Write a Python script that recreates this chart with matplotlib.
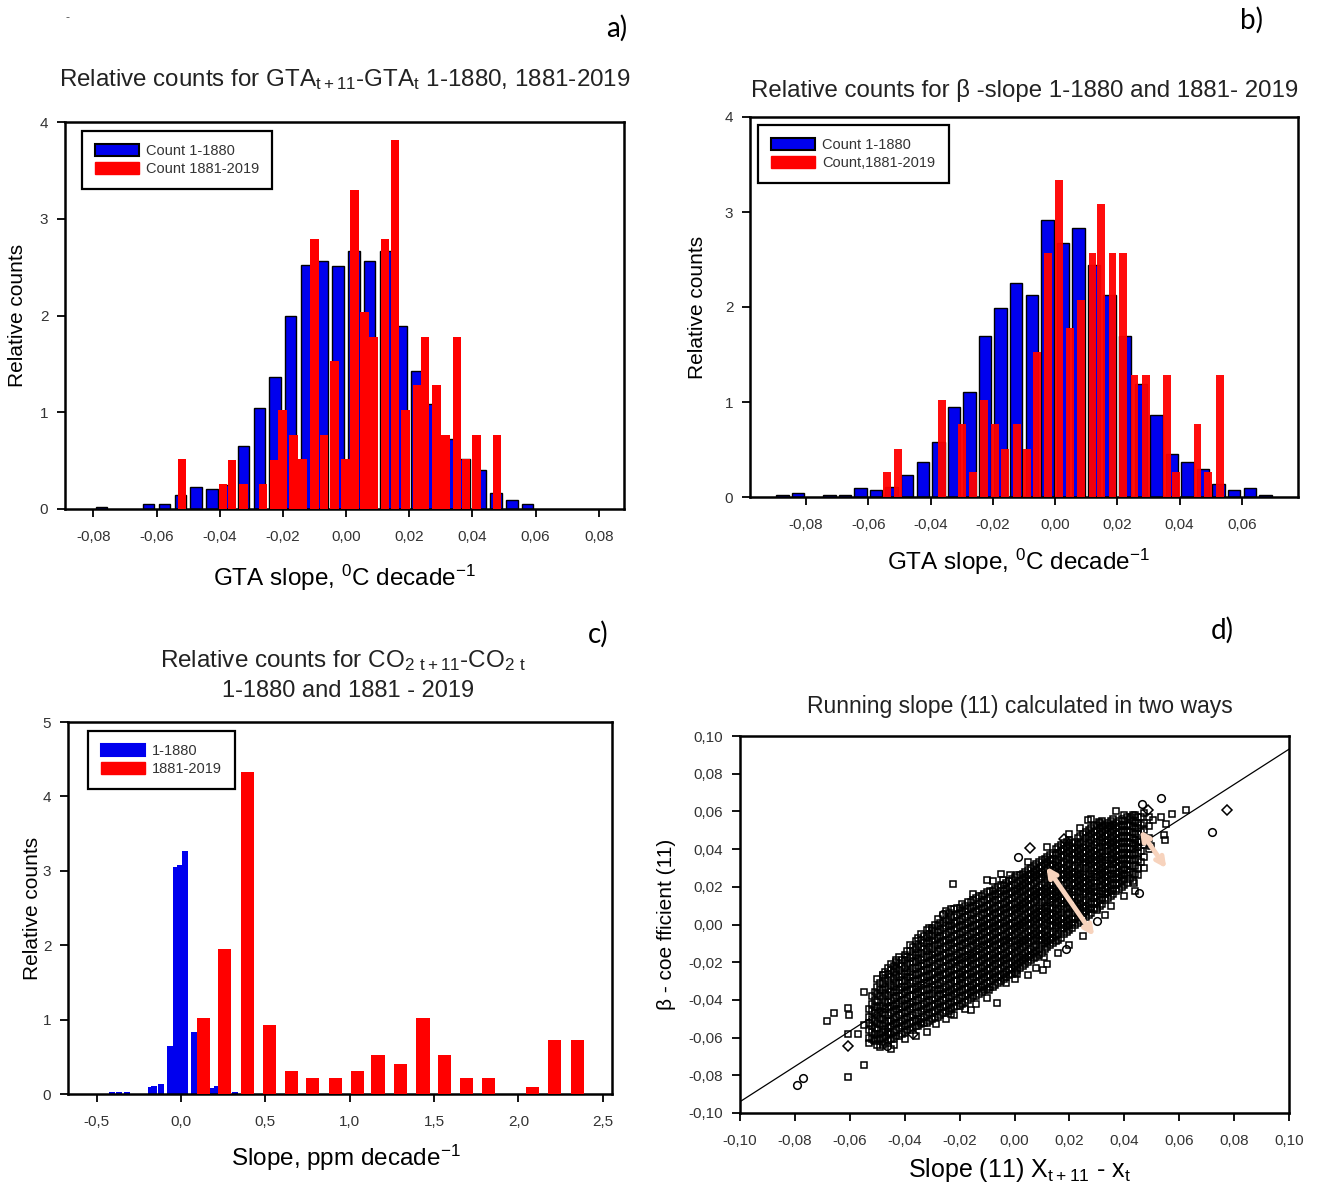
import matplotlib
matplotlib.use('Agg')
import matplotlib.pyplot as plt
from matplotlib.ticker import FuncFormatter
from matplotlib.patches import Patch

plt.rcParams['font.family'] = ['Liberation Sans', 'DejaVu Sans']
plt.rcParams['mathtext.default'] = 'regular'
NARROW = ['Liberation Sans Narrow', 'Liberation Sans', 'DejaVu Sans']

# ---------------- panel a: GTA(t+11)-GTA(t) ----------------
a_blue_x = [-0.0775, -0.0625, -0.0575, -0.0525, -0.0475, -0.0425, -0.0375, -0.0325,
            -0.0275, -0.0225, -0.0175, -0.0125, -0.0075, -0.0025, 0.0025, 0.0075,
            0.0125, 0.0175, 0.0225, 0.0275, 0.0325, 0.0375, 0.0425, 0.0475,
            0.0525, 0.0575]
a_blue_y = [0.02, 0.05, 0.05, 0.145, 0.23, 0.21, 0.25, 0.65,
            1.04, 1.36, 2.00, 2.52, 2.56, 2.51, 2.67, 2.56,
            2.67, 1.89, 1.43, 1.09, 0.72, 0.52, 0.40, 0.17,
            0.09, 0.05]
a_red_x = [-0.0519, -0.0389, -0.0361, -0.0325, -0.0263, -0.0227, -0.0202, -0.0167,
           -0.0138, -0.0100, -0.0070, -0.0037, -0.0001, 0.0027, 0.0059, 0.0087,
           0.0123, 0.0155, 0.0188, 0.0225, 0.0250, 0.0286, 0.0315, 0.0351,
           0.0380, 0.0413, 0.0478]
a_red_y = [0.52, 0.26, 0.51, 0.26, 0.26, 0.51, 1.02, 0.77,
           0.52, 2.79, 0.77, 1.53, 0.52, 3.30, 2.04, 1.78,
           2.79, 3.81, 1.02, 1.28, 1.78, 1.28, 0.77, 1.78,
           0.52, 0.77, 0.77]

# ---------------- panel b: beta-slope ----------------
b_blue_x = [-0.0875, -0.0825, -0.0725, -0.0675, -0.0625, -0.0575, -0.0525, -0.0475,
            -0.0425, -0.0375, -0.0325, -0.0275, -0.0225, -0.0175, -0.0125, -0.0075,
            -0.0025, 0.0025, 0.0075, 0.0125, 0.0175, 0.0225, 0.0275, 0.0325,
            0.0375, 0.0425, 0.0475, 0.0525, 0.0575, 0.0625, 0.0675]
b_blue_y = [0.02, 0.04, 0.02, 0.02, 0.09, 0.07, 0.11, 0.23,
            0.37, 0.58, 0.95, 1.11, 1.70, 1.99, 2.25, 2.13,
            2.92, 2.67, 2.83, 2.44, 2.13, 1.70, 1.19, 0.86,
            0.45, 0.37, 0.30, 0.14, 0.07, 0.09, 0.02]
b_red_x = [-0.0540, -0.0504, -0.0364, -0.0300, -0.0263, -0.0229, -0.0192, -0.0160,
           -0.0122, -0.0091, -0.0059, -0.0024, 0.0012, 0.0047, 0.0083, 0.0120,
           0.0148, 0.0184, 0.0219, 0.0255, 0.0291, 0.0359, 0.0389, 0.0457,
           0.0492, 0.0530]
b_red_y = [0.26, 0.51, 1.02, 0.77, 0.26, 1.02, 0.77, 0.51,
           0.77, 0.51, 1.53, 2.57, 3.34, 1.78, 2.07, 2.57,
           3.08, 2.57, 2.57, 1.28, 1.28, 1.28, 0.26, 0.77,
           0.26, 1.28]

# ---------------- panel c: CO2 ----------------
c_blue_x = [-0.41, -0.37, -0.32, -0.18, -0.16, -0.12, -0.063, -0.032,
            -0.008, 0.024, 0.079, 0.187, 0.213, 0.322]
c_blue_y = [0.03, 0.03, 0.03, 0.09, 0.11, 0.14, 0.65, 3.05,
            3.08, 3.26, 0.83, 0.08, 0.11, 0.03]
c_red_x = [0.131, 0.258, 0.394, 0.526, 0.655, 0.780, 0.916, 1.047,
           1.168, 1.303, 1.435, 1.564, 1.691, 1.825, 2.085, 2.212, 2.348]
c_red_y = [1.02, 1.95, 4.33, 0.93, 0.31, 0.22, 0.22, 0.31,
           0.52, 0.40, 1.02, 0.52, 0.22, 0.22, 0.10, 0.73, 0.73]

# ---------------- panel d: running slope scatter (values in 1/1000) ----------------
cloud_odd = [
    (-53, [-63, -60, -56, -52, -49, -45]),
    (-51, [-62, -58, -55, -51, -47, -44, -40, -36]),
    (-49, [-65, -61, -58, -53, -50, -46, -43, -38, -35, -31]),
    (-47, [-63, -59, -56, -52, -48, -45, -41, -37, -33, -29, -25]),
    (-45, [-61, -58, -54, -51, -47, -43, -40, -36, -32, -28, -24, -21]),
    (-43, [-59, -56, -52, -49, -45, -42, -38, -35, -31, -27, -23, -20]),
    (-41, [-58, -54, -51, -47, -44, -40, -37, -33, -30, -26, -22, -19]),
    (-39, [-56, -53, -49, -46, -42, -39, -35, -32, -28, -25, -21, -17, -14]),
    (-37, [-55, -51, -48, -44, -41, -38, -34, -30, -27, -23, -20, -16, -12]),
    (-35, [-54, -50, -47, -43, -40, -36, -33, -29, -26, -22, -18, -15, -11, -7]),
    (-33, [-52, -49, -45, -42, -38, -35, -31, -28, -24, -21, -17, -13, -10, -6]),
    (-31, [-51, -47, -44, -40, -37, -34, -30, -27, -23, -20, -16, -12, -9, -5, -2]),
    (-29, [-49, -46, -42, -39, -35, -32, -29, -25, -22, -18, -15, -11, -8, -4, 0]),
    (-27, [-48, -44, -41, -37, -34, -31, -27, -24, -20, -17, -13, -10, -6, -3, 1]),
    (-25, [-46, -43, -39, -36, -33, -29, -26, -22, -19, -15, -12, -8, -5, -1, 3]),
    (-23, [-45, -41, -38, -35, -31, -28, -24, -21, -17, -14, -10, -7, -3, 0, 4, 8]),
    (-21, [-43, -40, -36, -33, -30, -26, -23, -19, -16, -12, -9, -5, -2, 2, 5, 9]),
    (-19, [-42, -38, -35, -31, -28, -25, -21, -18, -14, -11, -7, -4, 0, 3, 7, 11]),
    (-17, [-40, -37, -33, -30, -26, -23, -20, -16, -13, -9, -6, -2, 1, 5, 8, 12]),
    (-15, [-38, -35, -32, -28, -25, -21, -18, -15, -11, -8, -4, -1, 3, 6, 10, 13]),
    (-13, [-37, -33, -30, -27, -23, -20, -16, -13, -9, -6, -3, 1, 4, 8, 11, 15]),
    (-11, [-35, -32, -28, -25, -22, -18, -15, -11, -8, -4, -1, 2, 6, 9, 13, 16]),
    (-9, [-33, -30, -27, -23, -20, -16, -13, -10, -6, -3, 1, 4, 7, 11, 14, 18]),
    (-7, [-32, -28, -25, -21, -18, -15, -11, -8, -4, -1, 2, 6, 9, 13, 16, 19]),
    (-5, [-30, -27, -23, -20, -16, -13, -10, -6, -3, 1, 4, 7, 11, 14, 18, 21]),
    (-3, [-28, -25, -21, -18, -15, -11, -8, -5, -1, 2, 6, 9, 12, 16, 19, 22]),
    (-1, [-26, -23, -20, -16, -13, -9, -6, -3, 1, 4, 7, 11, 14, 17, 21, 24]),
    (1, [-24, -21, -18, -14, -11, -8, -4, -1, 2, 6, 9, 12, 16, 19, 22, 26]),
    (3, [-22, -19, -16, -12, -9, -6, -2, 1, 4, 8, 11, 14, 18, 21, 24, 27]),
    (5, [-20, -17, -14, -10, -7, -4, 0, 3, 6, 10, 13, 16, 20, 23, 26, 29]),
    (7, [-18, -15, -12, -8, -5, -2, 2, 5, 8, 12, 15, 18, 22, 25, 28, 31]),
    (9, [-16, -13, -9, -6, -3, 1, 4, 7, 10, 14, 17, 20, 24, 27, 30, 33]),
    (11, [-13, -10, -7, -4, 0, 3, 6, 9, 13, 16, 19, 22, 26, 29, 32, 35]),
    (13, [-11, -8, -5, -1, 2, 5, 8, 12, 15, 18, 21, 25, 28, 31, 34, 37]),
    (15, [-9, -6, -2, 1, 4, 7, 11, 14, 17, 20, 24, 27, 30, 33, 37, 40]),
    (17, [-7, -3, 0, 3, 6, 10, 13, 16, 19, 23, 26, 29, 32, 36, 39, 42]),
    (19, [-4, -1, 2, 5, 9, 12, 15, 18, 22, 25, 28, 31, 35, 38, 41, 44]),
    (21, [-2, 1, 4, 8, 11, 14, 17, 21, 24, 27, 30, 34, 37, 40, 43]),
    (23, [1, 4, 7, 10, 13, 17, 20, 23, 26, 29, 33, 36, 39, 42, 46]),
    (25, [3, 6, 9, 12, 16, 19, 22, 25, 28, 32, 35, 38, 41, 44, 48]),
    (27, [5, 8, 11, 15, 18, 21, 24, 27, 31, 34, 37, 40, 43, 47, 50]),
    (29, [8, 11, 14, 17, 20, 23, 27, 30, 33, 36, 39, 42, 46, 49, 52]),
    (31, [10, 13, 16, 20, 23, 26, 29, 32, 35, 38, 41, 45, 48, 51, 54]),
    (33, [13, 16, 19, 22, 25, 28, 31, 34, 37, 41, 44, 47, 50, 53]),
    (35, [15, 18, 21, 24, 27, 30, 34, 37, 40, 43, 46, 49, 52, 55]),
    (37, [18, 21, 24, 27, 30, 33, 36, 39, 42, 45, 48, 51, 54]),
    (39, [20, 23, 26, 29, 32, 35, 38, 41, 44, 47, 50, 53, 56]),
    (41, [22, 26, 29, 32, 35, 38, 41, 44, 47, 50, 53, 57]),
    (43, [23, 27, 31, 34, 37, 40, 43, 46, 49, 52, 55, 58]),
    (45, [26, 30, 34, 38, 41, 44, 48, 51, 54, 57]),
    (47, [30, 36, 42, 46, 50, 54, 59]),
    (49, [40, 46, 52, 57]),
]
cloud_even = [
    (-52, [-61, -57, -54, -50, -46, -42, -38]),
    (-50, [-64, -60, -56, -52, -48, -44, -41, -37, -33]),
    (-48, [-64, -60, -57, -54, -50, -47, -43, -39, -35, -31, -27]),
    (-46, [-62, -58, -55, -51, -48, -44, -41, -38, -34, -30, -26, -23]),
    (-44, [-60, -57, -53, -50, -46, -43, -39, -36, -33, -29, -25, -22]),
    (-42, [-59, -55, -52, -48, -45, -42, -38, -35, -31, -28, -24, -21, -17]),
    (-40, [-57, -54, -50, -47, -43, -40, -36, -33, -30, -26, -23, -19, -16]),
    (-38, [-56, -52, -49, -45, -42, -38, -35, -31, -28, -25, -21, -18, -14]),
    (-36, [-54, -51, -47, -44, -40, -37, -34, -30, -27, -23, -20, -16, -13, -9]),
    (-34, [-53, -50, -46, -43, -39, -36, -32, -29, -25, -22, -19, -15, -12, -8]),
    (-32, [-52, -48, -45, -41, -38, -35, -31, -28, -24, -21, -17, -14, -10, -7, -3]),
    (-30, [-50, -47, -43, -40, -37, -33, -30, -26, -23, -19, -16, -13, -9, -6, -2]),
    (-28, [-49, -45, -42, -38, -35, -32, -28, -25, -21, -18, -14, -11, -7, -4, -1, 3]),
    (-26, [-47, -44, -40, -37, -34, -30, -27, -23, -20, -16, -13, -9, -6, -2, 1, 5]),
    (-24, [-46, -42, -39, -36, -32, -29, -25, -22, -18, -15, -11, -8, -4, -1, 2, 6]),
    (-22, [-44, -41, -37, -34, -30, -27, -24, -20, -17, -13, -10, -6, -3, 1, 4, 8]),
    (-20, [-43, -39, -36, -32, -29, -26, -22, -19, -15, -12, -8, -5, -1, 2, 6, 9]),
    (-18, [-41, -38, -34, -31, -27, -24, -21, -17, -14, -10, -7, -3, 0, 4, 7, 10]),
    (-16, [-39, -36, -33, -29, -26, -22, -19, -16, -12, -9, -5, -2, 2, 5, 9, 12]),
    (-14, [-38, -34, -31, -28, -24, -21, -17, -14, -10, -7, -4, 0, 3, 7, 10, 14]),
    (-12, [-36, -33, -29, -26, -23, -19, -16, -12, -9, -5, -2, 1, 5, 8, 12, 15]),
    (-10, [-34, -31, -28, -24, -21, -17, -14, -11, -7, -4, 0, 3, 6, 10, 13, 17]),
    (-8, [-33, -29, -26, -22, -19, -16, -12, -9, -5, -2, 1, 5, 8, 12, 15, 18]),
    (-6, [-31, -28, -24, -21, -17, -14, -11, -7, -4, 0, 3, 6, 10, 13, 16, 20]),
    (-4, [-29, -26, -22, -19, -16, -12, -9, -6, -2, 1, 5, 8, 11, 15, 18, 21]),
    (-2, [-27, -24, -21, -17, -14, -10, -7, -4, 0, 3, 6, 10, 13, 16, 20, 23]),
    (0, [-25, -22, -19, -15, -12, -9, -5, -2, 1, 5, 8, 11, 15, 18, 21, 25]),
    (2, [-23, -20, -17, -13, -10, -7, -3, 0, 3, 7, 10, 13, 17, 20, 23, 26]),
    (4, [-21, -18, -15, -11, -8, -5, -1, 2, 5, 9, 12, 15, 19, 22, 25, 28]),
    (6, [-19, -16, -13, -9, -6, -3, 1, 4, 7, 11, 14, 17, 21, 24, 27, 30]),
    (8, [-17, -14, -11, -7, -4, 0, 3, 6, 9, 13, 16, 19, 23, 26, 29, 32]),
    (10, [-15, -11, -8, -5, -2, 2, 5, 8, 12, 15, 18, 21, 25, 28, 31, 34]),
    (12, [-12, -9, -6, -3, 1, 4, 7, 10, 14, 17, 20, 24, 27, 30, 33, 36]),
    (14, [-10, -7, -4, 0, 3, 6, 9, 13, 16, 19, 22, 26, 29, 32, 35, 38]),
    (16, [-8, -5, -1, 2, 5, 8, 12, 15, 18, 21, 25, 28, 31, 34, 38, 41]),
    (18, [-5, -2, 1, 4, 8, 11, 14, 17, 21, 24, 27, 30, 33, 37, 40, 43]),
    (20, [-3, 0, 3, 6, 10, 13, 16, 19, 23, 26, 29, 32, 36, 39, 42, 45]),
    (22, [0, 3, 6, 9, 12, 15, 19, 22, 25, 28, 31, 35, 38, 41, 44]),
    (24, [2, 5, 8, 11, 14, 18, 21, 24, 27, 30, 34, 37, 40, 43, 47]),
    (26, [4, 7, 10, 13, 17, 20, 23, 26, 30, 33, 36, 39, 42, 46, 49]),
    (28, [6, 9, 12, 16, 19, 22, 25, 29, 32, 35, 38, 41, 45, 48, 51]),
    (30, [9, 12, 15, 18, 22, 25, 28, 31, 34, 37, 40, 44, 47, 50, 53]),
    (32, [11, 14, 18, 21, 24, 27, 30, 33, 36, 39, 43, 46, 49, 52, 55]),
    (34, [14, 17, 20, 23, 26, 29, 32, 36, 39, 42, 45, 48, 51, 54]),
    (36, [16, 19, 22, 25, 29, 32, 35, 38, 41, 44, 47, 50, 53, 56]),
    (38, [19, 22, 25, 28, 31, 34, 37, 40, 43, 46, 49, 52, 55]),
    (40, [21, 24, 27, 30, 34, 37, 40, 43, 46, 49, 52, 55, 58]),
    (42, [24, 28, 31, 34, 37, 40, 43, 46, 49, 52, 56]),
    (44, [27, 31, 35, 38, 42, 45, 48, 51, 54, 58]),
    (46, [33, 39, 44, 49, 53, 57]),
]
# ragged points along both edges of the cloud
edge_x = [-45, -40, -32, -25, -18, -10, -3, 5, 12, 20, 25, 35, 40,
          -55, -48, -43, -38, -30, -25, -15, -5, 5, 12, 20, 28, 37,
          -57, -44, -36, -22, -14, 0, 8, 16, 33, 44, -50, -34, -8, 24]
edge_y = [-66, -61, -57, -50, -45, -39, -31, -27, -21, -11, -6, 10, 15,
          -36, -27, -19, -11, -3, 7, 16, 27, 33, 41, 48, 56, 60,
          -58, -64, -59, -48, -42, -29, -23, -15, 5, 18, -29, -5, 23, 51]
sq_x = [-60.8, -55.0, -60.8, -68.2, -65.9, -60.8, -60.2, -55.0, -51.2, -46.0, -34.1, -28.7,
        -23.3, -15.8, -6.5, -9.3, 0.8, 10.5, 10.9, 30.2, 43.4, -22.5, -10.1, -4.3, -1.6,
        26.8, 30.7, 34.4, 42.6, 57.4, 62.5, 54.3, 55.0, 50.4, 53.2, 55.3, 49.6]
sq_y = [-80.7, -74.6, -57.9, -51.4, -46.8, -44.4, -48.2, -53.5, -61.4, -57.0, -51.8, -52.6,
        -47.4, -45.6, -41.8, -34.6, -26.3, -24.0, -17.0, 7.9, 21.9, 21.6, 23.7, 23.7, 26.3,
        55.3, 54.4, 52.1, 57.0, 58.8, 60.5, 47.4, 44.7, 55.3, 57.0, 53.2, 41.6]
circ_x = [-79.1, -77.1, -25.9, 18.9, 30.2, 71.8, 46.5, 53.5, 45.3, -46.5, 1.1]
circ_y = [-85.1, -81.2, 5.8, -13.2, 2.1, 49.1, 64.0, 67.2, 16.7, -64.4, 36.0]
diam_x = [-60.5, -36.9, 5.7, 18.1, 77.5, 48.5]
diam_y = [-64.4, -57.9, 40.4, 45.1, 60.5, 60.5]
fit_x = [-0.10, 0.10]
fit_y = [-0.094, 0.093]
arrow_a = [(0.0116, 0.0307), (0.0290, -0.0061)]
arrow_b = [(0.0457, 0.0500), (0.0553, 0.0298)]

W, H = 1318, 1190
fig = plt.figure(figsize=(W / 100, H / 100), dpi=100)


def px_axes(left, top, right, bottom):
    return fig.add_axes([left / W, 1 - bottom / H, (right - left) / W, (bottom - top) / H])


def comma(fmt):
    return FuncFormatter(lambda v, p: (fmt % v).replace('.', ','))


def style(ax):
    for s in ax.spines.values():
        s.set_linewidth(1.8)
    ax.tick_params(direction='out', length=6, width=1.3, labelsize=11,
                   labelcolor='#333333', pad=6)
    ax.tick_params(axis='x', pad=9)


def legend(ax, labels, anchor, edge_blue=True):
    handles = [Patch(facecolor='#0000ee', edgecolor='black' if edge_blue else '#0000ee', lw=1.5),
               Patch(facecolor='#ff0000', edgecolor='#ff0000')]
    lg = ax.legend(handles, labels, loc='upper left', fontsize=10.5, fancybox=False,
                   framealpha=1, edgecolor='black', handlelength=3.0, handleheight=0.9,
                   labelspacing=0.25, borderpad=0.9, handletextpad=0.5,
                   borderaxespad=0, bbox_to_anchor=anchor)
    lg.get_frame().set_linewidth(1.6)
    for t in lg.get_texts():
        t.set_color('#333333')


# panel a
ax = px_axes(65, 122, 624, 509)
ax.bar(a_blue_x, a_blue_y, width=0.0036, color='#0000ee', edgecolor='black', lw=1.0, zorder=2)
ax.bar(a_red_x, a_red_y, width=0.0027, color='#ff0000', lw=0, zorder=3)
ax.set_xlim(-0.089, 0.088)
ax.set_ylim(0, 4)
ax.set_xticks([-0.08, -0.06, -0.04, -0.02, 0.0, 0.02, 0.04, 0.06, 0.08])
ax.set_yticks([0, 1, 2, 3, 4])
ax.xaxis.set_major_formatter(comma('%.2f'))
style(ax)
legend(ax, ['Count 1-1880', 'Count 1881-2019'], (0.03, 0.977))
ax.set_ylabel('Relative counts', fontsize=15, family=NARROW)
ax.yaxis.set_label_coords(-0.068, 0.5)
ax.set_xlabel('GTA slope, $^{0}$C decade$^{-1}$', fontsize=17.5, family=NARROW)
ax.xaxis.set_label_coords(0.5, -0.14)

# panel b
ax = px_axes(750, 117, 1298, 497)
ax.bar(b_blue_x, b_blue_y, width=0.0040, color='#0000ee', edgecolor='black', lw=1.0, zorder=2)
ax.bar(b_red_x, b_red_y, width=0.0025, color='#ff0000', lw=0, zorder=3, alpha=0.95)
ax.set_xlim(-0.098, 0.078)
ax.set_ylim(0, 4)
ax.set_xticks([-0.08, -0.06, -0.04, -0.02, 0.0, 0.02, 0.04, 0.06])
ax.set_yticks([0, 1, 2, 3, 4])
ax.xaxis.set_major_formatter(comma('%.2f'))
style(ax)
legend(ax, ['Count 1-1880', 'Count,1881-2019'], (0.015, 0.979))
ax.set_ylabel('Relative counts', fontsize=15, family=NARROW)
ax.yaxis.set_label_coords(-0.078, 0.5)
ax.set_xlabel('GTA slope, $^{0}$C decade$^{-1}$', fontsize=17.5, family=NARROW)
ax.xaxis.set_label_coords(0.49, -0.13)

# panel c
ax = px_axes(68, 722, 612, 1094)
ax.bar(c_blue_x, c_blue_y, width=0.036, color='#0000ee', lw=0, zorder=2)
ax.bar(c_red_x, c_red_y, width=0.078, color='#ff0000', lw=0, zorder=3)
ax.set_xlim(-0.67, 2.555)
ax.set_ylim(0, 5)
ax.set_xticks([-0.5, 0.0, 0.5, 1.0, 1.5, 2.0, 2.5])
ax.set_yticks([0, 1, 2, 3, 4, 5])
ax.xaxis.set_major_formatter(comma('%.1f'))
style(ax)
legend(ax, ['1-1880', '1881-2019'], (0.037, 0.976), edge_blue=False)
ax.set_ylabel('Relative counts', fontsize=15, family=NARROW)
ax.yaxis.set_label_coords(-0.048, 0.5)
ax.set_xlabel('Slope, ppm decade$^{-1}$', fontsize=17.5, family=NARROW)
ax.xaxis.set_label_coords(0.51, -0.13)

# panel d
ax = px_axes(740, 736, 1289, 1113)
cloud = cloud_odd + cloud_even
cx = [c[0] / 1000 for c in cloud for _ in c[1]] + [v / 1000 for v in edge_x]
cy = [v / 1000 for c in cloud for v in c[1]] + [v / 1000 for v in edge_y]
mk = dict(ls='none', mfc='none', mec='black', mew=1.1, zorder=3)
ax.plot(cx, cy, marker='s', ms=5.0, **mk)
ax.plot([v / 1000 for v in sq_x], [v / 1000 for v in sq_y], marker='s', ms=5.0, **mk)
ax.plot([v / 1000 for v in circ_x], [v / 1000 for v in circ_y], marker='o', ms=5.5, **mk)
ax.plot([v / 1000 for v in diam_x], [v / 1000 for v in diam_y], marker='D', ms=4.6, **mk)
ax.plot(fit_x, fit_y, color='black', lw=0.9, zorder=2)
for arr in (arrow_a, arrow_b):
    ax.annotate('', xy=arr[1], xytext=arr[0], zorder=4,
                arrowprops=dict(arrowstyle='<->', color='#f7d3bd', lw=3.5, mutation_scale=14,
                                shrinkA=0, shrinkB=0))
ax.set_xlim(-0.1, 0.1)
ax.set_ylim(-0.1, 0.1)
ticks = [-0.10, -0.08, -0.06, -0.04, -0.02, 0.0, 0.02, 0.04, 0.06, 0.08, 0.10]
ax.set_xticks(ticks)
ax.set_yticks(ticks)
ax.xaxis.set_major_formatter(comma('%.2f'))
ax.yaxis.set_major_formatter(comma('%.2f'))
style(ax)
ax.set_ylabel('β - coe fficient (11)', fontsize=15, family=NARROW)
ax.yaxis.set_label_coords(-0.117, 0.5)
ax.set_xlabel('Slope (11) X$_{t+11}$ - x$_{t}$', fontsize=18, family=NARROW)
ax.xaxis.set_label_coords(0.51, -0.115)

# titles and panel letters
def ftext(x, y, s, **kw):
    fig.text(x / W, 1 - y / H, s, ha='center', va='center', **kw)


ftext(345, 80, 'Relative counts for GTA$_{t+11}$-GTA$_{t}$ 1-1880, 1881-2019',
      fontsize=17.4, family=NARROW, color='#222222')
ftext(1025, 90, 'Relative counts for β -slope 1-1880 and 1881- 2019',
      fontsize=17.3, family=NARROW, color='#222222')
ftext(343, 661, 'Relative counts for CO$_{2\\ t+11}$-CO$_{2\\ t}$',
      fontsize=17.5, family=NARROW, color='#222222')
ftext(348, 691, '1-1880 and 1881 - 2019', fontsize=17, family=NARROW, color='#222222')
ftext(1020, 706, 'Running slope (11) calculated in two ways', fontsize=16.5,
      family=NARROW, color='#222222')
for lab, x, y in [('a)', 617, 28), ('b)', 1252, 20), ('c)', 598, 634), ('d)', 1222, 630)]:
    ftext(x, y, lab, fontsize=20, family=['Lato', 'DejaVu Sans'])
ftext(68, 18, '-', fontsize=9, color='#555555')

fig.savefig('out.png', dpi=100)
